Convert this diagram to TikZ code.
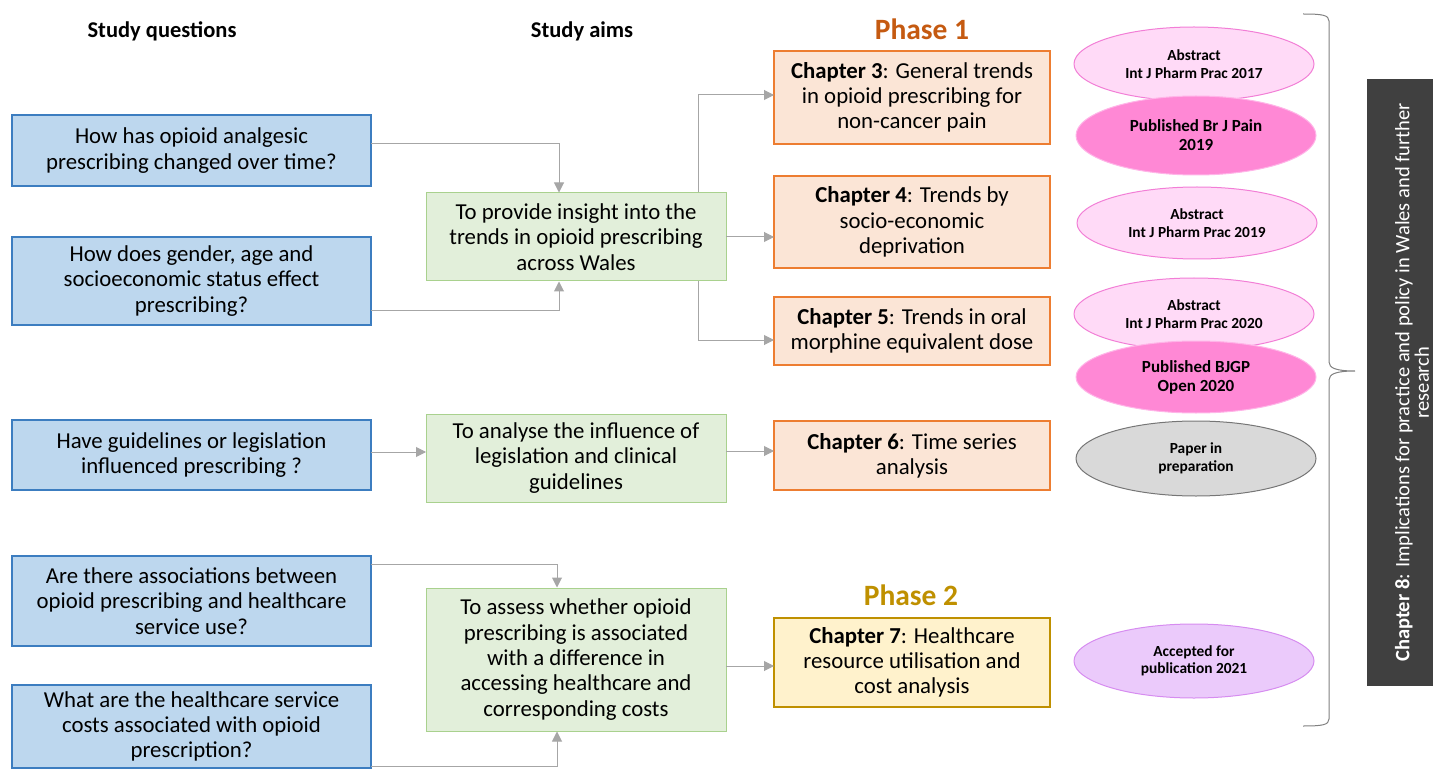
\documentclass[tikz,border=0pt]{standalone}
\usepackage{fontspec}
\setmainfont{Carlito}
\usetikzlibrary{arrows.meta,shapes.geometric}
\definecolor{bluef}{HTML}{BDD7EE}
\definecolor{blued}{HTML}{3C7DC0}
\definecolor{greenf}{HTML}{E2EFDA}
\definecolor{greend}{HTML}{A9D18E}
\definecolor{orangef}{HTML}{FBE5D6}
\definecolor{oranged}{HTML}{ED7D31}
\definecolor{yellowf}{HTML}{FFF2CC}
\definecolor{yellowd}{HTML}{BF9000}
\definecolor{phaseone}{HTML}{C55A11}
\definecolor{phasetwo}{HTML}{BF9000}
\definecolor{pinklf}{HTML}{FFDAF7}
\definecolor{pinkld}{HTML}{F27ED6}
\definecolor{pinkdf}{HTML}{FF88D5}
\definecolor{pinkdd}{HTML}{FFB5E8}
\definecolor{grayf}{HTML}{D9D9D9}
\definecolor{grayd}{HTML}{767676}
\definecolor{lavf}{HTML}{EBCAFB}
\definecolor{lavd}{HTML}{D68CF0}
\definecolor{conn}{HTML}{A6A6A6}
\definecolor{darkbox}{HTML}{404040}
\begin{document}
\begin{tikzpicture}[x=1pt,y=-1pt,
  every node/.style={inner sep=0pt,outer sep=0pt},
  boxtext/.style={align=center,font=\fontsize{22.8}{25.3}\selectfont},
  qbox/.style={boxtext,draw=blued,fill=bluef,line width=1.6pt,minimum width=359pt},
  abox/.style={boxtext,draw=greend,fill=greenf,line width=1pt,minimum width=300pt},
  cbox/.style={boxtext,draw=oranged,fill=orangef,line width=1.6pt,minimum width=276pt},
  ybox/.style={boxtext,draw=yellowd,fill=yellowf,line width=1.6pt,minimum width=276pt},
  pub/.style={ellipse,align=center,minimum width=240pt,line width=1pt,font=\bfseries\fontsize{15.4}{17.5}\selectfont},
  pubA/.style={pub,draw=pinkld,fill=pinklf},
  pubB/.style={pub,draw=pinkdd,fill=pinkdf,font=\bfseries\fontsize{17}{19}\selectfont},
  head/.style={font=\bfseries\fontsize{22.5}{26}\selectfont},
  phase/.style={font=\bfseries\fontsize{29.5}{34}\selectfont},
  link/.style={draw=conn,line width=1pt,-{Triangle[length=10pt,width=10pt]}}
]
\useasboundingbox (0,0) rectangle (1433,770);

% headers
\node[head] (hq) at (162,31) {Study questions};
\node[head] (ha) at (582,31) {Study aims};
\node[phase,text=phaseone] (p1) at (922,29) {Phase 1};
\node[phase,text=phasetwo] (p2) at (911,595) {Phase 2};

% study questions
\node[qbox,minimum height=71pt] (q1) at (191.5,150.5) {How has opioid analgesic\\prescribing changed over time?};
\node[qbox,minimum height=88pt] (q2) at (191.5,281) {How does gender, age and\\socioeconomic status effect\\prescribing?};
\node[qbox,minimum height=70pt] (q3) at (191.5,455) {Have guidelines or legislation\\influenced prescribing ?};
\node[qbox,minimum height=90pt] (q4) at (191.5,601) {Are there associations between\\opioid prescribing and healthcare\\service use?};
\node[qbox,minimum height=83pt] (q5) at (191.5,726.5) {What are the healthcare service\\costs associated with opioid\\prescription?};

% study aims
\node[abox,minimum height=88pt] (a1) at (576,237) {To provide insight into the\\trends in opioid prescribing\\across Wales};
\node[abox,minimum height=88pt] (a2) at (576,458) {To analyse the influence of\\legislation and clinical\\guidelines};
\node[abox,minimum height=143pt] (a3) at (576,659.5) {To assess whether opioid\\prescribing is associated\\with a difference in\\accessing healthcare and\\corresponding costs};

% chapters
\node[cbox,minimum height=93pt] (c3) at (912,97.5) {\textbf{Chapter 3}: General trends\\in opioid prescribing for\\non-cancer pain};
\node[cbox,minimum height=92pt] (c4) at (912,222) {\textbf{Chapter 4}: Trends by\\socio-economic\\deprivation};
\node[cbox,minimum height=68pt] (c5) at (912,331) {\textbf{Chapter 5}: Trends in oral\\morphine equivalent dose};
\node[cbox,minimum height=69pt] (c6) at (912,455.5) {\textbf{Chapter 6}: Time series\\analysis};
\node[ybox,minimum height=89pt] (c7) at (912,662.5) {\textbf{Chapter 7}: Healthcare\\resource utilisation and\\cost analysis};

% publications
\node[pubA,minimum height=74pt] (e1) at (1194,64) {Abstract\\Int J Pharm Prac 2017};
\node[pubB,minimum height=79pt] (e2) at (1196,135.5) {Published Br J Pain\\2019};
\node[pubA,minimum height=72pt] (e3) at (1197,223) {Abstract\\Int J Pharm Prac 2019};
\node[pubA,minimum height=72pt] (e4) at (1194,314) {Abstract\\Int J Pharm Prac 2020};
\node[pubB,minimum height=72pt] (e5) at (1196,377) {Published BJGP\\Open 2020};
\node[pub,draw=grayd,fill=grayf,minimum height=75pt] (e6) at (1196,458.5) {Paper in\\preparation};
\node[pub,draw=lavd,fill=lavf,minimum height=74pt] (e7) at (1194,661) {Accepted for\\publication 2021};

% brace
\draw[draw=gray,line width=1pt] (1303,14) .. controls (1322,14) and (1329,15) .. (1329,21)
  -- (1329,362) .. controls (1329,368) and (1336,371) .. (1355,371)
  .. controls (1336,371) and (1329,374) .. (1329,380)
  -- (1329,719) .. controls (1329,725) and (1322,726) .. (1303,726);

% chapter 8 box
\node[fill=darkbox,minimum width=66pt,minimum height=607pt,anchor=north west] (c8) at (1367,79) {};
\node[rotate=90,text=white,align=center,font=\fontsize{20.5}{19.5}\selectfont] (c8t) at (1412,382.5)
  {\textbf{Chapter 8}: Implications for practice and policy in Wales and further\\research};

% connectors
\coordinate (q1e) at (q1.east |- 0,144);
\draw[link] (q1e) -- (559,144) -- (559,192.5);
\coordinate (q2e) at (q2.east |- 0,310);
\draw[link] (q2e) -- (559,310) -- (559,281.5);
\coordinate (a1t) at (698,192.5);
\draw[link] (a1t) -- (698,95) -- (c3.west |- 0,95);
\draw[link] (a1.east) -- (c4.west |- a1.east);
\coordinate (a1b) at (698,281.5);
\draw[link] (a1b) -- (698,340) -- (c5.west |- 0,340);
\draw[link] (q3.east |- 0,452) -- (a2.west |- 0,452);
\draw[link] (a2.east |- 0,451) -- (c6.west |- 0,451);
\coordinate (q4e) at (q4.east |- 0,564);
\draw[link] (q4e) -- (557,564) -- (557,587.5);
\coordinate (q5e) at (q5.east |- 0,766);
\draw[link] (q5e) -- (557,766) -- (557,731.5);
\draw[link] (a3.east |- 0,666) -- (c7.west |- 0,666);
\end{tikzpicture}
\end{document}
